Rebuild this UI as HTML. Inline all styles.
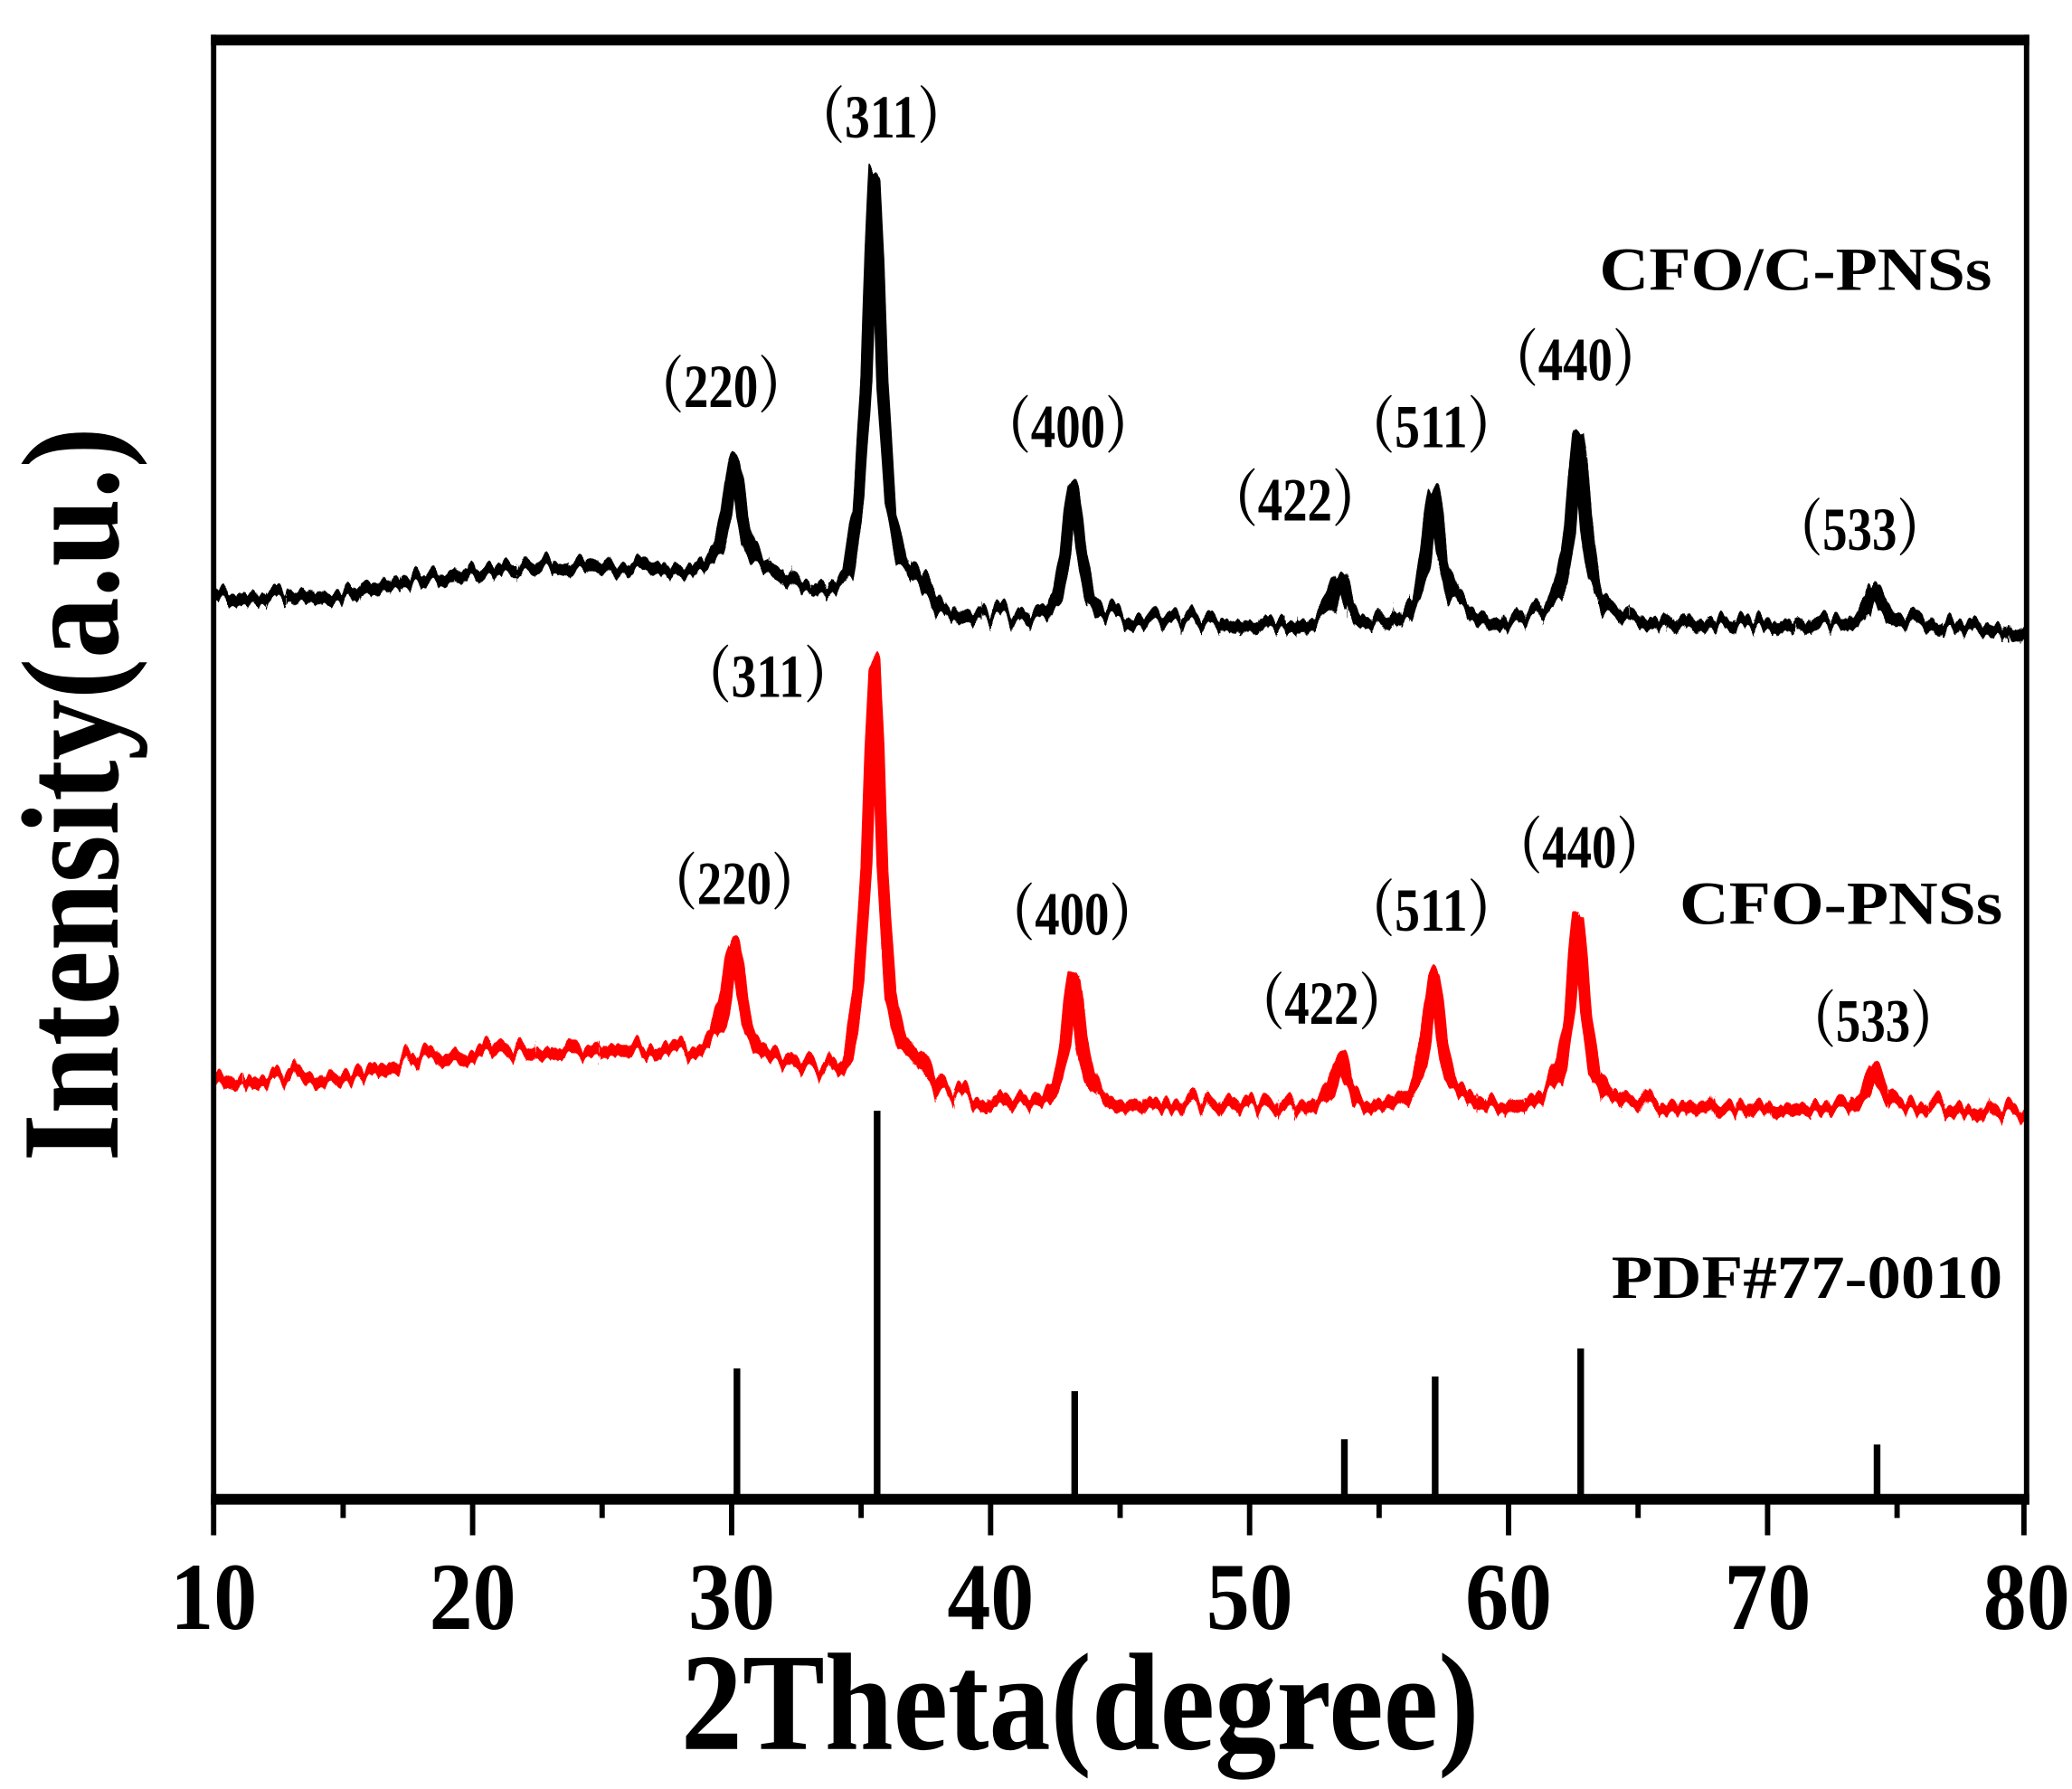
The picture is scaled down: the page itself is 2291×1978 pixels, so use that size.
<!DOCTYPE html>
<html><head><meta charset="utf-8"><style>html,body{margin:0;padding:0;background:#fff}svg{display:block}</style></head>
<body>
<svg width="2291" height="1978" viewBox="0 0 1552 1340" xmlns="http://www.w3.org/2000/svg" xmlns:xlink="http://www.w3.org/1999/xlink" font-family="'Liberation Serif','Noto Serif CJK SC',serif" font-weight="bold">
<defs>
<filter id="n1" filterUnits="userSpaceOnUse" x="140" y="0" width="1400" height="1000">
<feTurbulence type="turbulence" baseFrequency="0.07 0.002" numOctaves="2" seed="3" result="t"/>
<feColorMatrix in="t" type="matrix" values="0 0 0 0 0.5  1 0 0 0 0  0 0 1 0 0  0 0 0 0 1" result="m"/>
<feDisplacementMap in="SourceGraphic" in2="m" scale="26" xChannelSelector="R" yChannelSelector="G"/>
</filter>
<filter id="n2" filterUnits="userSpaceOnUse" x="140" y="0" width="1400" height="1000">
<feTurbulence type="turbulence" baseFrequency="0.07 0.002" numOctaves="2" seed="11" result="t"/>
<feColorMatrix in="t" type="matrix" values="0 0 0 0 0.5  1 0 0 0 0  0 0 1 0 0  0 0 0 0 1" result="m"/>
<feDisplacementMap in="SourceGraphic" in2="m" scale="26" xChannelSelector="R" yChannelSelector="G"/>
</filter>
<path id="xrd" d="M160 440 L257 438 L315 425 L393 418 L509 418 L515 419 L530 415 L538 405 L544 380 L547 354 L550 337 L553 354 L556 380 L562 405 L570 415 L585 424 L607 432 L620 433 L635 425 L643 374 L649 281 L652 190 L655 128 L658 190 L661 281 L667 374 L675 410 L690 425 L704 448 L730 455 L769 456 L784 450 L792 439 L798 410 L801 381 L804 362 L807 381 L810 410 L816 439 L824 450 L839 457 L975 460 L984 457 L992 453 L998 443 L1001 432 L1004 425 L1007 432 L1010 443 L1016 453 L1024 457 L1039 456 L1054 451 L1062 440 L1068 410 L1071 382 L1074 362 L1077 382 L1080 410 L1086 437 L1094 445 L1109 455 L1130 458 L1147 454 L1162 447 L1170 430 L1176 388 L1179 348 L1182 318 L1185 348 L1188 388 L1194 430 L1202 447 L1217 454 L1250 459 L1324 460 L1369 459 L1384 457 L1392 454 L1398 446 L1404 432 L1410 446 L1416 454 L1424 457 L1439 459 L1518 465"/>
</defs>
<rect width="1552" height="1340" fill="#fff"/>
<g fill="none" stroke-width="9" stroke-linejoin="round">
<use xlink:href="#xrd" stroke="#000" filter="url(#n1)"/>
<g transform="translate(0,362)"><use xlink:href="#xrd" stroke="#ff0000" filter="url(#n2)"/></g>
</g>
<g stroke="#000" stroke-width="5">
<line x1="552" y1="1123" x2="552" y2="1025"/>
<line x1="657" y1="1123" x2="657" y2="832"/>
<line x1="805" y1="1123" x2="805" y2="1042"/>
<line x1="1007" y1="1123" x2="1007" y2="1078"/>
<line x1="1075" y1="1123" x2="1075" y2="1031"/>
<line x1="1184" y1="1123" x2="1184" y2="1010"/>
<line x1="1406" y1="1123" x2="1406" y2="1082"/>
</g>
<g stroke="#000" fill="none">
<line x1="160" y1="26" x2="160" y2="1127" stroke-width="4"/>
<line x1="1518" y1="26" x2="1518" y2="1127" stroke-width="4"/>
<line x1="158" y1="30" x2="1520" y2="30" stroke-width="8"/>
<line x1="158" y1="1123" x2="1520" y2="1123" stroke-width="8"/>
</g>
<g stroke="#000" stroke-width="4">
<line x1="160" y1="1123" x2="160" y2="1150"/><line x1="257" y1="1123" x2="257" y2="1137"/>
<line x1="354" y1="1123" x2="354" y2="1150"/><line x1="451" y1="1123" x2="451" y2="1137"/>
<line x1="548" y1="1123" x2="548" y2="1150"/><line x1="645" y1="1123" x2="645" y2="1137"/>
<line x1="742" y1="1123" x2="742" y2="1150"/><line x1="839" y1="1123" x2="839" y2="1137"/>
<line x1="936" y1="1123" x2="936" y2="1150"/><line x1="1033" y1="1123" x2="1033" y2="1137"/>
<line x1="1130" y1="1123" x2="1130" y2="1150"/><line x1="1227" y1="1123" x2="1227" y2="1137"/>
<line x1="1324" y1="1123" x2="1324" y2="1150"/><line x1="1421" y1="1123" x2="1421" y2="1137"/>
<line x1="1516" y1="1123" x2="1516" y2="1150"/>
</g>
<g font-size="72" text-anchor="middle" fill="#000">
<text x="160" y="1220" textLength="65" lengthAdjust="spacingAndGlyphs">10</text>
<text x="354" y="1220" textLength="65" lengthAdjust="spacingAndGlyphs">20</text>
<text x="548" y="1220" textLength="65" lengthAdjust="spacingAndGlyphs">30</text>
<text x="742" y="1220" textLength="65" lengthAdjust="spacingAndGlyphs">40</text>
<text x="936" y="1220" textLength="65" lengthAdjust="spacingAndGlyphs">50</text>
<text x="1130" y="1220" textLength="65" lengthAdjust="spacingAndGlyphs">60</text>
<text x="1324" y="1220" textLength="65" lengthAdjust="spacingAndGlyphs">70</text>
<text x="1518" y="1220" textLength="65" lengthAdjust="spacingAndGlyphs">80</text>
</g>
<text x="809" y="1310" font-size="104" text-anchor="middle" textLength="598" lengthAdjust="spacingAndGlyphs">2Theta(degree)</text>
<text transform="translate(88,595) rotate(-90)" font-size="104" text-anchor="middle" textLength="550" lengthAdjust="spacingAndGlyphs">Intensity(a.u.)</text>
<g font-size="46">
<text x="1198" y="217" textLength="294" lengthAdjust="spacingAndGlyphs">CFO/C-PNSs</text>
<text x="1258" y="692" textLength="242" lengthAdjust="spacingAndGlyphs">CFO-PNSs</text>
<text x="1207" y="972" textLength="293" lengthAdjust="spacingAndGlyphs">PDF#77-0010</text>
</g>
<g font-size="46" text-anchor="middle">
<text x="660" y="103" textLength="130" lengthAdjust="spacingAndGlyphs">（311）</text>
<text x="540" y="305" textLength="130" lengthAdjust="spacingAndGlyphs">（220）</text>
<text x="800" y="335" textLength="130" lengthAdjust="spacingAndGlyphs">（400）</text>
<text x="970" y="390" textLength="130" lengthAdjust="spacingAndGlyphs">（422）</text>
<text x="1072" y="335" textLength="130" lengthAdjust="spacingAndGlyphs">（511）</text>
<text x="1180" y="285" textLength="130" lengthAdjust="spacingAndGlyphs">（440）</text>
<text x="1393" y="412" textLength="130" lengthAdjust="spacingAndGlyphs">（533）</text>
<text x="575" y="522" textLength="130" lengthAdjust="spacingAndGlyphs">（311）</text>
<text x="550" y="677" textLength="130" lengthAdjust="spacingAndGlyphs">（220）</text>
<text x="803" y="700" textLength="130" lengthAdjust="spacingAndGlyphs">（400）</text>
<text x="990" y="767" textLength="130" lengthAdjust="spacingAndGlyphs">（422）</text>
<text x="1072" y="697" textLength="130" lengthAdjust="spacingAndGlyphs">（511）</text>
<text x="1183" y="650" textLength="130" lengthAdjust="spacingAndGlyphs">（440）</text>
<text x="1403" y="780" textLength="130" lengthAdjust="spacingAndGlyphs">（533）</text>
</g>
</svg>
</body></html>
